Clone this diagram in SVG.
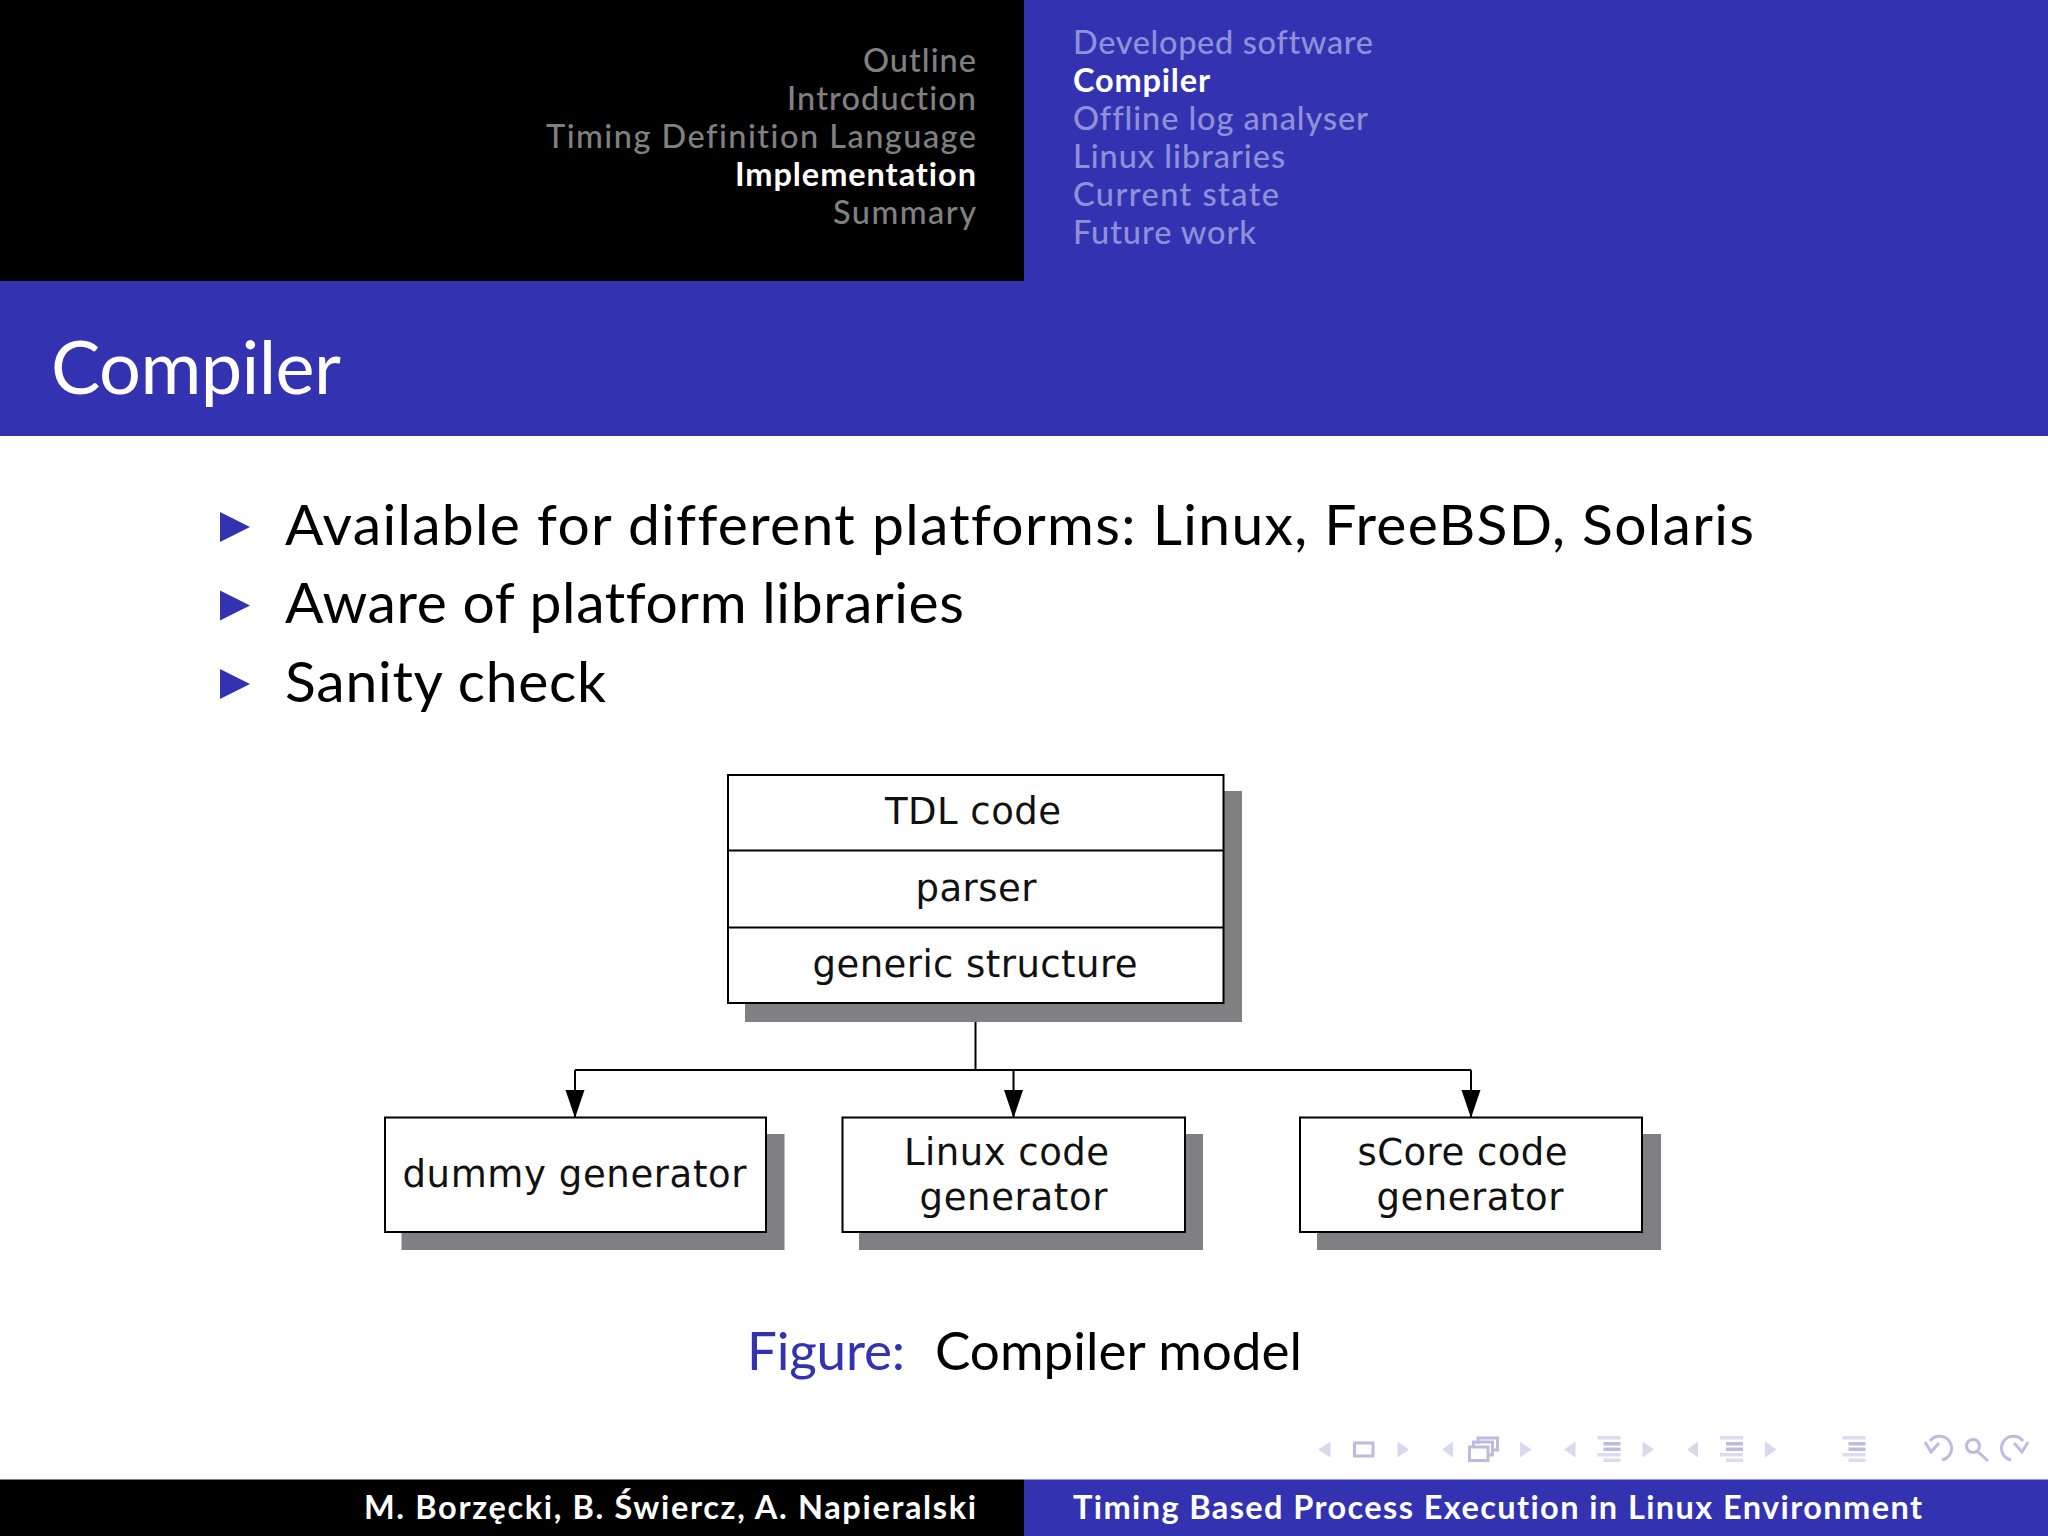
<svg xmlns="http://www.w3.org/2000/svg" width="2048" height="1536" viewBox="0 0 2048 1536">
<style>
.s{font-family:"Lato","Open Sans","Liberation Sans",sans-serif;font-variant-ligatures:none}
.nav{font-size:32.500px;font-weight:500}
.dim-l{fill:#808080}
.dim-r{fill:#9090d8}
.w{fill:#fff}
.body{font-size:57px;fill:#000}
.d{font-family:"DejaVu Sans",sans-serif;font-size:37px;fill:#111;text-anchor:middle}
.box{fill:#fff;stroke:#000;stroke-width:2}
.shadow{fill:#807f82}
.conn{fill:none;stroke:#000;stroke-width:2}
.tri{fill:#d9d9ee}
.ic{fill:#bcbce0}
.icl{fill:none;stroke:#bcbce0;stroke-width:3}
.bul{fill:#3333b2}
</style>
<defs>
<marker id="arrow" markerUnits="userSpaceOnUse" markerWidth="28" markerHeight="20" refX="27" refY="10" orient="auto" viewBox="0 0 28 20"><path d="M0 .5L28 10L0 19.500Z" fill="#000"/></marker>
<g id="lines"><rect x="0" y="0" width="23" height="3.5" fill="#dcdcf0"/><rect x="6" y="6" width="17" height="3.5" fill="#bcbce0"/><rect x="6" y="11.5" width="17" height="3.5" fill="#bcbce0"/><rect x="0" y="17" width="23" height="3.5" fill="#dcdcf0"/><rect x="6" y="22.5" width="17" height="3.5" fill="#dcdcf0"/></g>
</defs>
<rect width="2048" height="1536" fill="#fff"/>
<g id="header">
<rect x="0" y="0" width="1024" height="281" fill="#000"/>
<rect x="1024" y="0" width="1024" height="281" fill="#3333b2"/>
<rect x="0" y="281" width="2048" height="155" fill="#3333b2"/>
<g class="s nav" text-anchor="end">
<text x="976" y="72" class="dim-l" textLength="113">Outline</text>
<text x="976" y="110" class="dim-l" textLength="189">Introduction</text>
<text x="976" y="148" class="dim-l" textLength="430">Timing Definition Language</text>
<text x="976" y="186" class="w" textLength="241" font-weight="700">Implementation</text>
<text x="976" y="224" class="dim-l" textLength="143">Summary</text>
</g>
<g class="s nav">
<text x="1073" y="54" class="dim-r" textLength="300">Developed software</text>
<text x="1073" y="92" class="w" textLength="137" font-weight="700">Compiler</text>
<text x="1073" y="130" class="dim-r" textLength="295">Offline log analyser</text>
<text x="1073" y="167.500" class="dim-r" textLength="212">Linux libraries</text>
<text x="1073" y="205.500" class="dim-r" textLength="206">Current state</text>
<text x="1073" y="243.500" class="dim-r" textLength="183">Future work</text>
</g>
<text x="51" y="394" class="s w" font-size="74" textLength="290" font-weight="400">Compiler</text>
</g>
<g id="bullets">
<path class="bul" d="M220 512L250 527L220 542Z"/>
<path class="bul" d="M220 590.5L250 605.5L220 620.5Z"/>
<path class="bul" d="M220 669L250 684L220 699Z"/>
<text x="285" y="545" class="s body" textLength="1469">Available for different platforms: Linux, FreeBSD, Solaris</text>
<text x="285" y="623" class="s body" textLength="679">Aware of platform libraries</text>
<text x="285" y="702" class="s body" textLength="321">Sanity check</text>
</g>
<g id="connectors">
<path class="conn" d="M975.5 1003V1070"/>
<path class="conn" d="M575 1070H1471"/>
<path class="conn" d="M575 1070V1117" marker-end="url(#arrow)"/>
<path class="conn" d="M1013.5 1070V1117" marker-end="url(#arrow)"/>
<path class="conn" d="M1471 1070V1117" marker-end="url(#arrow)"/>
</g>
<g id="node-stack">
<rect class="shadow" x="745" y="791" width="497" height="231"/>
<rect class="box" x="728" y="775" width="495.500" height="228"/>
<path class="conn" d="M728 850.500H1223.500M728 927.500H1223.500"/>
<text class="d" x="973" y="824" textLength="176">TDL code</text>
<text class="d" x="976" y="901" textLength="121">parser</text>
<text class="d" x="975" y="977" textLength="325">generic structure</text>
</g>
<g id="node-dummy">
<rect class="shadow" x="401.500" y="1134" width="383" height="116"/>
<rect class="box" x="385" y="1117.500" width="381" height="114.500"/>
<text class="d" x="574.500" y="1187" textLength="344">dummy generator</text>
</g>
<g id="node-linux">
<rect class="shadow" x="859" y="1134" width="344" height="116"/>
<rect class="box" x="842.500" y="1117.500" width="342.500" height="114.500"/>
<text class="d" x="1006.500" y="1165" textLength="205">Linux code</text>
<text class="d" x="1013.500" y="1210" textLength="188">generator</text>
</g>
<g id="node-score">
<rect class="shadow" x="1317" y="1134" width="344" height="116"/>
<rect class="box" x="1300" y="1117.500" width="342" height="114.500"/>
<text class="d" x="1462.500" y="1165" textLength="210">sCore code</text>
<text class="d" x="1470" y="1210" textLength="187">generator</text>
</g>
<g id="caption" class="s" font-size="53">
<text x="747" y="1370" fill="#3333b2" textLength="158">Figure:</text>
<text x="935" y="1370" fill="#000" textLength="367">Compiler model</text>
</g>
<g id="navsymbols">
<path class="tri" d="M1330.500 1441.500V1457.500L1318 1449.500Z"/>
<rect class="icl" x="1354.500" y="1443" width="18.500" height="13"/>
<path class="tri" d="M1397.500 1441.500V1457.500L1409 1449.500Z"/>
<path class="tri" d="M1453 1441.500V1457.500L1442 1449.500Z"/>
<path class="icl" d="M1478 1444V1438H1497.500V1450H1491.500"/>
<path class="icl" d="M1473.500 1448V1442H1492.500V1455H1487"/>
<rect class="icl" x="1469.500" y="1447" width="18.500" height="13.500"/>
<path class="tri" d="M1520 1441.500V1457.500L1531.500 1449.500Z"/>
<path class="tri" d="M1575.500 1441.500V1457.500L1564 1449.500Z"/>
<use href="#lines" x="1597.500" y="1436"/>
<path class="tri" d="M1642.500 1441.500V1457.500L1654 1449.500Z"/>
<path class="tri" d="M1698 1441.500V1457.500L1687 1449.500Z"/>
<use href="#lines" x="1720" y="1436"/>
<path class="tri" d="M1765 1441.500V1457.500L1776.500 1449.500Z"/>
<use href="#lines" x="1842.500" y="1436"/>
<path class="icl" d="M1930 1441A12 12 0 1 1 1942 1460"/>
<path class="icl" d="M1925 1442L1931 1452L1939 1443"/>
<circle class="icl" cx="1973" cy="1446" r="6.500"/>
<path class="icl" d="M1977 1451L1988 1461"/>
<path class="icl" d="M2023 1441A12 12 0 1 0 2011 1460"/>
<path class="icl" d="M2028 1442L2022 1452L2014 1443"/>
</g>
<g id="footer">
<rect x="0" y="1479.500" width="1024" height="56.500" fill="#000"/>
<rect x="1024" y="1479.500" width="1024" height="56.500" fill="#3333b2"/>
<text x="976" y="1519" text-anchor="end" class="s w" font-size="32.500" textLength="612" font-weight="700">M. Borzęcki, B. Świercz, A. Napieralski</text>
<text x="1073" y="1519" class="s w" font-size="32.500" textLength="849" font-weight="700">Timing Based Process Execution in Linux Environment</text>
</g>
</svg>
